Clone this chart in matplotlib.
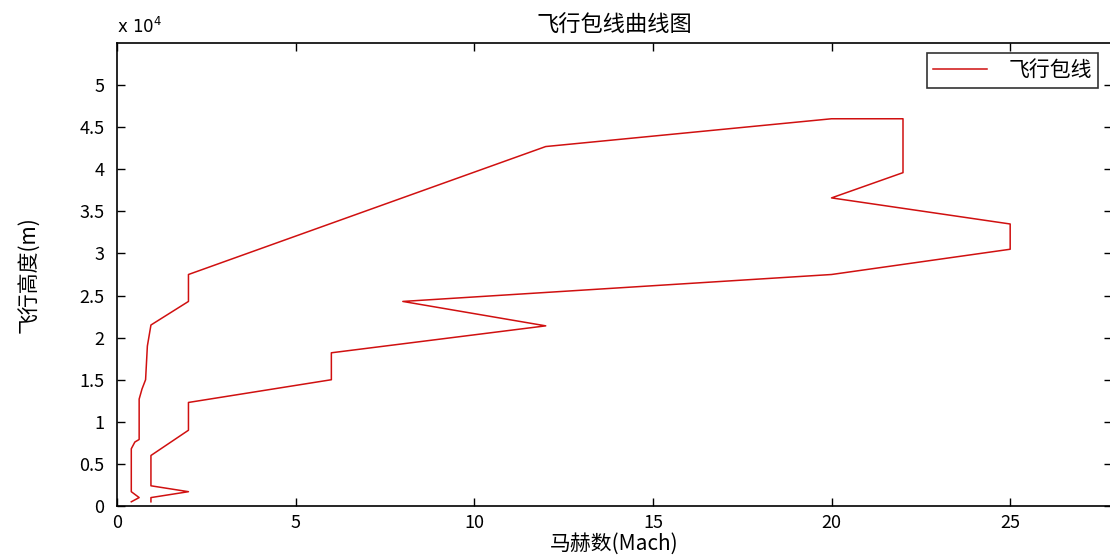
import numpy as np
import matplotlib.pyplot as plt
from matplotlib.ticker import FixedLocator, FixedFormatter

plt.rcParams['font.family'] = ['Noto Sans CJK SC', 'DejaVu Sans']

# flight envelope, Mach vs altitude (m): left edge going up, then right edge coming down
mach = [0.4, 0.62, 0.4, 0.4, 0.5, 0.62, 0.62, 0.7, 0.8, 0.85, 0.95, 2.0, 2.0, 12.0, 20.0, 22.0,
        22.0, 20.0, 25.0, 25.0, 20.0, 8.0, 12.0, 6.0, 6.0, 2.0, 2.0, 0.95, 0.95, 2.0, 0.95, 0.95]
alt = [500, 1000, 1700, 6800, 7600, 7900, 12700, 13900, 15000, 19000, 21500, 24300, 27500, 42700, 46000, 46000,
       39600, 36600, 33500, 30500, 27500, 24300, 21400, 18200, 15000, 12300, 9000, 6000, 2400, 1700, 1000, 500]

xticks = [0, 5, 10, 15, 20, 25]
yticks = [0, 5000, 10000, 15000, 20000, 25000, 30000, 35000, 40000, 45000, 50000]
ytick_labels = ['0', '0.5', '1', '1.5', '2', '2.5', '3', '3.5', '4', '4.5', '5']

fig = plt.figure(figsize=(11.1, 5.55), dpi=100)
ax = fig.add_axes([117 / 1110, 49 / 555, 995 / 1110, 463 / 555])

ax.plot(mach, alt, color='#d01010', lw=1.1, label='飞行包线')

ax.set_xlim(0, 27.85)
ax.set_ylim(0, 55000)
ax.xaxis.set_major_locator(FixedLocator(xticks))
ax.yaxis.set_major_locator(FixedLocator(yticks))
ax.yaxis.set_major_formatter(FixedFormatter(ytick_labels))
ax.tick_params(direction='in', top=True, right=True, length=6, width=1,
               labelsize=13, colors='black')
ax.tick_params(axis='y', pad=9)
ax.tick_params(axis='x', pad=6)
for s in ax.spines.values():
    s.set_linewidth(1.2)

ax.text(0.0, 1.012, r'x $10^4$', transform=ax.transAxes, fontsize=12,
        family='DejaVu Sans', ha='left', va='bottom')

ax.set_title('飞行包线曲线图', fontsize=16, pad=8)
ax.set_xlabel('马赫数(Mach)', fontsize=15, labelpad=0)
ax.set_ylabel('飞行高度(m)', fontsize=15, labelpad=28)

leg = ax.legend(loc='upper right', bbox_to_anchor=(981 / 995, 1 - 10 / 463), fontsize=15,
                frameon=True, fancybox=False, edgecolor='black', handlelength=2.6,
                handletextpad=1.0, borderpad=0.3, borderaxespad=0)
leg.get_frame().set_linewidth(1.2)

plt.savefig('out.png', dpi=100)
